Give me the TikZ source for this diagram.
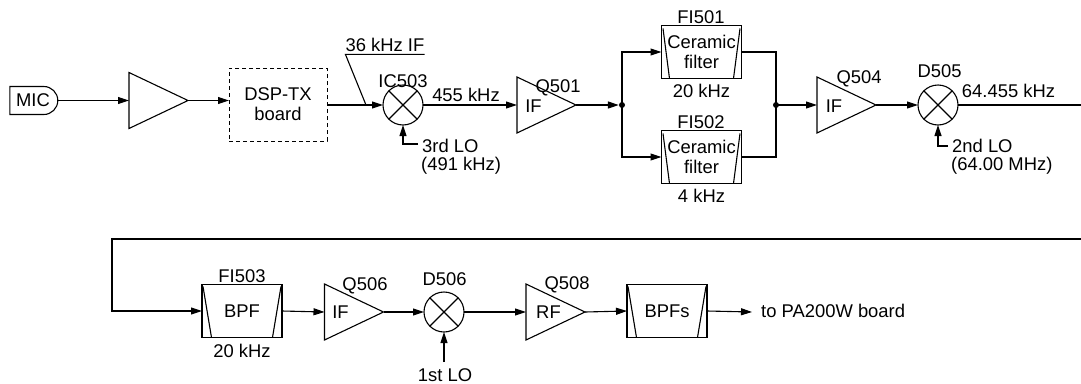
\documentclass[tikz,border=0pt]{standalone}
\usepackage{fontspec}
\setmainfont{Liberation Sans}
\usetikzlibrary{arrows.meta,shapes.misc}
\begin{document}
\begin{tikzpicture}[x=1pt,y=-1pt,
  font=\fontsize{18.4}{20}\selectfont,
  line/.style={line width=1.1pt},
  arr/.style={line,-{Triangle[length=11pt,width=7pt]}},
  amp/.style={inner sep=0pt,outer sep=0pt,minimum width=59pt,minimum height=56pt},
  mixer/.style={circle,draw,line,minimum size=40pt,inner sep=0pt,outer sep=0pt},
  filt/.style={draw,line,inner sep=0pt,outer sep=0pt,minimum width=80pt,minimum height=53pt,align=center},
  lbl/.style={anchor=base,inner sep=0pt},
  lblw/.style={anchor=base west,inner sep=0pt},
  dot/.style={circle,fill,inner sep=0pt,minimum size=6pt}
]
\useasboundingbox (0,0) rectangle (1081,383);
\fill[white] (0,0) rectangle (1081,383);

% ---------- top row ----------
\node[draw,line,rounded rectangle,rounded rectangle left arc=none,inner sep=0pt,outer sep=0pt,
      minimum width=48pt,minimum height=28pt] (mic) at (33,100.5) {MIC};
\node[amp] (a1) at (158.5,100.5) {};
\draw[line,line join=miter] (a1.north west) -- (a1.east) -- (a1.south west) -- cycle;
\node[draw,line width=1pt,dash pattern=on 4pt off 3pt,inner sep=0pt,outer sep=0pt,
      minimum width=98pt,minimum height=73pt,align=center] (dsp) at (278,104.5) {DSP-TX\\board};

\node[mixer] (m1) at (403,105) {};
\draw[line] (m1.north west) -- (m1.south east) (m1.north east) -- (m1.south west);
\node[lbl] (ic503) at (403,87) {IC503};
\node[lbl] (ifl) at (385,51) {36 kHz IF};
\coordinate (ul1) at ([yshift=-3pt]ifl.south west);
\coordinate (ul2) at ([yshift=-3pt]ifl.south east);
\coordinate (tap) at (366,105);
\draw[line] (ul2) -- (ul1) -- (tap);

\node[lbl] (f455) at (466,101) {455 kHz};
\node[lblw] (lo3) at (422,152) {3rd LO};
\node[lblw] (lo3f) at (421,170) {(491 kHz)};
\coordinate (lo3e) at (418,144);
\coordinate (lo3c) at (403,144);

\node[amp] (q501) at (546.5,105) {};
\draw[line,line join=miter] (q501.north west) -- (q501.east) -- (q501.south west) -- cycle;
\node[lbl] (q501l) at (558,92) {Q501};
\node[lbl] (q501t) at (533.5,112) {IF};

\node[dot] (j1) at (622,105) {};
\node[filt] (fi501) at (701.5,52) {Ceramic\\filter};
\node[filt] (fi502) at (701.5,157) {Ceramic\\filter};
\foreach \f in {fi501,fi502}{
  \draw[line] ([xshift=1.5pt,yshift=-3pt]\f.north west) -- ([xshift=8pt]\f.south west);
  \draw[line] ([xshift=-1.5pt,yshift=-3pt]\f.north east) -- ([xshift=-8pt]\f.south east);
}
\node[lbl] (fi501l) at (701,23) {FI501};
\node[lbl] (fi501b) at (701.5,97) {20 kHz};
\node[lbl] (fi502l) at (701,128) {FI502};
\node[lbl] (fi502b) at (701.5,202) {4 kHz};
\node[dot] (j2) at (776,105) {};

\node[amp] (q504) at (846.5,105) {};
\draw[line,line join=miter] (q504.north west) -- (q504.east) -- (q504.south west) -- cycle;
\node[lbl] (q504l) at (859,83) {Q504};
\node[lbl] (q504t) at (834,112) {IF};

\node[mixer] (d505) at (938,105) {};
\draw[line] (d505.north west) -- (d505.south east) (d505.north east) -- (d505.south west);
\node[lbl] (d505l) at (939.5,77) {D505};
\node[lbl] (f64) at (1008.5,97) {64.455 kHz};
\node[lblw] (lo2) at (952,152) {2nd LO};
\node[lblw] (lo2f) at (951,170) {(64.00 MHz)};
\coordinate (lo2e) at (948,146);
\coordinate (lo2c) at (938,146);
\coordinate (redge1) at (1083,105);

% ---------- bottom row ----------
\coordinate (redge2) at (1083,239);
\coordinate (lp) at (112,239);
\node[filt] (fi503) at (242,311) {BPF};
\node[lbl] (fi503l) at (242,282) {FI503};
\node[lbl] (fi503b) at (242,357) {20 kHz};

\node[amp] (q506) at (354,312) {};
\draw[line,line join=miter] (q506.north west) -- (q506.east) -- (q506.south west) -- cycle;
\node[lbl] (q506l) at (365,290) {Q506};
\node[lbl] (q506t) at (340.5,318) {IF};

\node[mixer] (d506) at (444,312) {};
\draw[line] (d506.north west) -- (d506.south east) (d506.north east) -- (d506.south west);
\node[lbl] (d506l) at (444.5,285) {D506};
\node[lbl] (lo1) at (445,381) {1st LO};
\coordinate (lo1top) at (444,362);

\node[amp] (q508) at (555.5,312) {};
\draw[line,line join=miter] (q508.north west) -- (q508.east) -- (q508.south west) -- cycle;
\node[lbl] (q508l) at (567,289) {Q508};
\node[lbl] (q508t) at (548.5,318) {RF};

\node[filt] (bpfs) at (667,311) {BPFs};
\foreach \f in {fi503,bpfs}{
  \draw[line] ([xshift=1pt,yshift=-2pt]\f.north west) -- ([xshift=9.5pt]\f.south west);
  \draw[line] ([xshift=-1pt,yshift=-2pt]\f.north east) -- ([xshift=-9.5pt]\f.south east);
}
\node[lblw] (pa) at (761,317) {to PA200W board};
\coordinate (pae) at (752,312);

% ---------- connectors ----------
\draw[arr] (mic.east) -- (a1.west);
\draw[arr] (a1.east) -- (a1.east -| dsp.west);
\draw[arr] (m1.west -| dsp.east) -- (m1.west);
\draw[arr] (lo3e) -- (lo3c) -- (m1.south);
\draw[arr] (m1.east) -- (q501.west);
\draw[arr] (q501.east) -- (j1.west);
\draw[arr] (j1.center) |- (fi501.west);
\draw[arr] (j1.center) |- (fi502.west);
\draw[line] (fi501.east) -| (j2.center);
\draw[line] (fi502.east) -| (j2.center);
\draw[arr] (j2.center) -- (q504.west);
\draw[arr] (q504.east) -- (d505.west);
\draw[arr] (lo2e) -- (lo2c) -- (d505.south);
\draw[line] (d505.east) -- (redge1);

\draw[arr] (redge2) -- (lp) |- (fi503.west);
\draw[arr] (fi503.east) -- (q506.west);
\draw[arr] (q506.east) -- (d506.west);
\draw[arr] (lo1top) -- (d506.south);
\draw[arr] (d506.east) -- (q508.west);
\draw[arr] (q508.east) -- (bpfs.west);
\draw[arr] (bpfs.east) -- (pae);
\end{tikzpicture}
\end{document}
